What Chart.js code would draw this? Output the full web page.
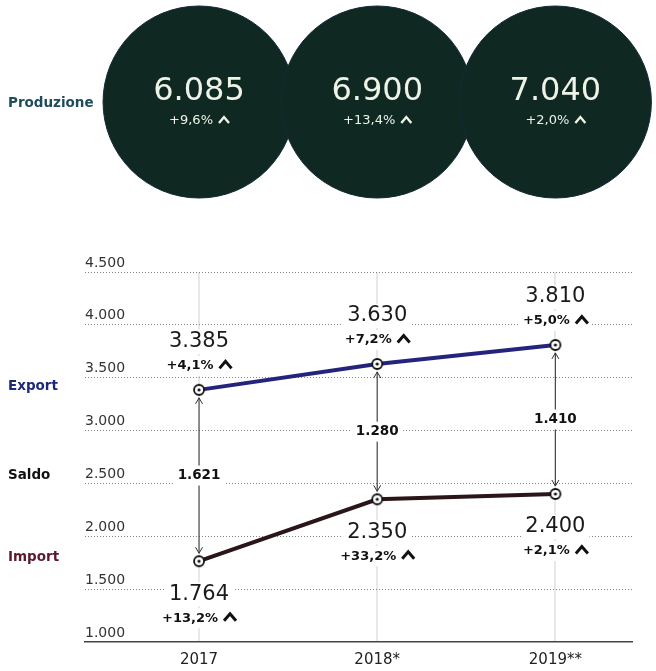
<!DOCTYPE html>
<html lang="it">
<head>
<meta charset="utf-8">
<script src="https://cdn.jsdelivr.net/npm/chart.js@4/dist/chart.umd.min.js"></script>
<style>
  html, body { margin: 0; padding: 0; background: #fff; }
  canvas { display: block; }
</style>
</head>
<body>
<canvas id="prodChart" width="656" height="212"></canvas>
<canvas id="tradeChart" width="656" height="459"></canvas>
<script>
const years = ['2017', '2018*', '2019**'];
const produzione = [6085, 6900, 7040];
const produzionePct = ['+9,6%', '+13,4%', '+2,0%'];
const exportVals = [3385, 3630, 3810];
const exportPct = ['+4,1%', '+7,2%', '+5,0%'];
const importVals = [1764, 2350, 2400];
const importPct = ['+13,2%', '+33,2%', '+2,1%'];
const yTicks = [1000, 1500, 2000, 2500, 3000, 3500, 4000, 4500];

const FONT = '"DejaVu Sans", sans-serif';
const fmt = (n) => String(n).replace(/\B(?=(\d{3})+(?!\d))/g, '.');

// little chevron drawn after the percentages
function drawCaret(ctx, x, y, w, h, lw, color) {
  ctx.save();
  ctx.strokeStyle = color;
  ctx.lineWidth = lw;
  ctx.lineJoin = 'miter';
  ctx.beginPath();
  ctx.moveTo(x, y + h / 2);
  ctx.lineTo(x + w / 2, y - h / 2);
  ctx.lineTo(x + w, y + h / 2);
  ctx.stroke();
  ctx.restore();
}

function pctWithCaret(ctx, text, cx, cy, font, color, bg, caretW, caretH, caretLw) {
  ctx.font = font;
  const w = ctx.measureText(text).width;
  const gap = 6;
  const total = w + gap + caretW;
  const start = cx - total / 2;
  if (bg) {
    ctx.fillStyle = bg;
    ctx.fillRect(start - 4, cy - 10, total + 8, 20);
  }
  ctx.fillStyle = color;
  ctx.textAlign = 'left';
  ctx.textBaseline = 'middle';
  ctx.fillText(text, start, cy);
  drawCaret(ctx, start + w + gap, cy - 1, caretW, caretH, caretLw, color);
}

function boxedText(ctx, text, cx, cy, font, color, h) {
  ctx.font = font;
  const w = ctx.measureText(text).width;
  ctx.fillStyle = '#fff';
  ctx.fillRect(cx - w / 2 - 4, cy - h / 2, w + 8, h);
  ctx.fillStyle = color;
  ctx.textAlign = 'center';
  ctx.textBaseline = 'middle';
  ctx.fillText(text, cx, cy);
}

// Production circles: value and change written inside each bubble
const prodLabels = {
  id: 'prodLabels',
  afterDatasetsDraw(chart) {
    const { ctx } = chart;
    const meta = chart.getDatasetMeta(0);
    ctx.save();
    meta.data.forEach((pt, i) => {
      ctx.font = '32px ' + FONT;
      ctx.fillStyle = '#eef3e8';
      ctx.textAlign = 'center';
      ctx.textBaseline = 'middle';
      ctx.fillText(fmt(produzione[i]), pt.x, pt.y - 10);
      pctWithCaret(ctx, produzionePct[i], pt.x, pt.y + 19, '13px ' + FONT, '#eef3e8', null, 10, 6, 2.4);
    });
    ctx.font = 'bold 13.5px ' + FONT;
    ctx.fillStyle = '#1f4c5c';
    ctx.textAlign = 'left';
    ctx.textBaseline = 'middle';
    ctx.fillText('Produzione', 8, meta.data[0].y + 1);
    ctx.restore();
  }
};

new Chart(document.getElementById('prodChart'), {
  type: 'bubble',
  data: {
    datasets: [{
      data: produzione.map((v, i) => ({ x: i, y: 0, r: 96 })),
      backgroundColor: '#0f2821',
      borderColor: '#14283a',
      borderWidth: 1,
      clip: false,
    }],
  },
  options: {
    responsive: false,
    animation: false,
    events: [],
    layout: { autoPadding: false, padding: { left: 85, right: 24, top: 0, bottom: 8 } },
    plugins: { legend: { display: false }, tooltip: { enabled: false } },
    scales: {
      x: { type: 'linear', min: -0.64, max: 2.43, display: false },
      y: { min: -1, max: 1, display: false },
    },
  },
  plugins: [prodLabels],
});

// point marker: white ring with a dot
const marker = document.createElement('canvas');
marker.width = 14;
marker.height = 14;
const m = marker.getContext('2d');
m.beginPath();
m.arc(7, 7, 5, 0, Math.PI * 2);
m.fillStyle = '#fff';
m.fill();
m.lineWidth = 1.8;
m.strokeStyle = '#111';
m.stroke();
m.beginPath();
m.arc(7, 7, 1.6, 0, Math.PI * 2);
m.fillStyle = '#111';
m.fill();

const tradeLabels = {
  id: 'tradeLabels',
  afterDatasetsDraw(chart) {
    const { ctx } = chart;
    const { x, y } = chart.scales;
    ctx.save();
    years.forEach((_, i) => {
      const px = x.getPixelForValue(i);
      const yE = y.getPixelForValue(exportVals[i]);
      const yI = y.getPixelForValue(importVals[i]);

      // double arrow between export and import
      const top = yE + 8, bot = yI - 8;
      ctx.strokeStyle = '#333';
      ctx.lineWidth = 1;
      ctx.beginPath();
      ctx.moveTo(px, top);
      ctx.lineTo(px, bot);
      ctx.moveTo(px - 3.5, top + 6);
      ctx.lineTo(px, top);
      ctx.lineTo(px + 3.5, top + 6);
      ctx.moveTo(px - 3.5, bot - 6);
      ctx.lineTo(px, bot);
      ctx.lineTo(px + 3.5, bot - 6);
      ctx.stroke();

      const mid = (yE + yI) / 2;
      boxedText(ctx, fmt(exportVals[i] - importVals[i]), px, mid, 'bold 13.5px ' + FONT, '#111', 20);

      boxedText(ctx, fmt(exportVals[i]), px, yE - 48, '21px ' + FONT, '#1a1a1a', 24);
      pctWithCaret(ctx, exportPct[i], px, yE - 24, 'bold 13px ' + FONT, '#111', '#fff', 12, 7, 3);

      boxedText(ctx, fmt(importVals[i]), px, yI + 33, '21px ' + FONT, '#1a1a1a', 24);
      pctWithCaret(ctx, importPct[i], px, yI + 57, 'bold 13px ' + FONT, '#111', '#fff', 12, 7, 3);
    });

    // row labels on the left, next to the 2017 values
    const yE0 = y.getPixelForValue(exportVals[0]);
    const yI0 = y.getPixelForValue(importVals[0]);
    ctx.font = 'bold 13.5px ' + FONT;
    ctx.textAlign = 'left';
    ctx.textBaseline = 'middle';
    ctx.fillStyle = '#1d2a7a';
    ctx.fillText('Export', 8, yE0 - 3);
    ctx.fillStyle = '#111';
    ctx.fillText('Saldo', 8, (yE0 + yI0) / 2);
    ctx.fillStyle = '#5a1a2c';
    ctx.fillText('Import', 8, yI0 - 4);
    ctx.restore();
  }
};

new Chart(document.getElementById('tradeChart'), {
  type: 'line',
  data: {
    datasets: [
      {
        label: 'Export',
        data: exportVals.map((v, i) => ({ x: i, y: v })),
        borderColor: '#24247c',
        borderWidth: 4,
        pointStyle: marker,
        pointRadius: 7,
      },
      {
        label: 'Import',
        data: importVals.map((v, i) => ({ x: i, y: v })),
        borderColor: '#2a1519',
        borderWidth: 4,
        pointStyle: marker,
        pointRadius: 7,
      },
    ],
  },
  options: {
    responsive: false,
    animation: false,
    events: [],
    layout: { autoPadding: false, padding: { left: 85, right: 24, top: 60, bottom: 0 } },
    plugins: { legend: { display: false }, tooltip: { enabled: false } },
    scales: {
      x: {
        type: 'linear',
        min: -0.64,
        max: 2.43,
        afterBuildTicks: (scale) => { scale.ticks = years.map((_, i) => ({ value: i })); },
        afterFit: (scale) => { scale.height = 29; },
        ticks: {
          callback: (v) => years[v],
          font: { family: FONT, size: 15 },
          color: '#222',
          padding: 9,
        },
        grid: { color: '#e8e8e8', lineWidth: 2, drawTicks: false },
        border: { display: true, color: '#444', width: 1.5 },
      },
      y: {
        min: 1000,
        max: 4500,
        afterBuildTicks: (scale) => { scale.ticks = yTicks.map((v) => ({ value: v })); },
        ticks: {
          mirror: true,
          padding: 0,
          labelOffset: -9,
          callback: (v) => fmt(v),
          font: { family: FONT, size: 14 },
          color: '#333',
        },
        grid: {
          color: (c) => (c.tick && c.tick.value === 1000 ? 'rgba(0,0,0,0)' : '#858585'),
          lineWidth: 1,
          drawTicks: false,
        },
        border: { display: false, dash: [1, 2] },
      },
    },
  },
  plugins: [tradeLabels],
});
</script>
</body>
</html>
